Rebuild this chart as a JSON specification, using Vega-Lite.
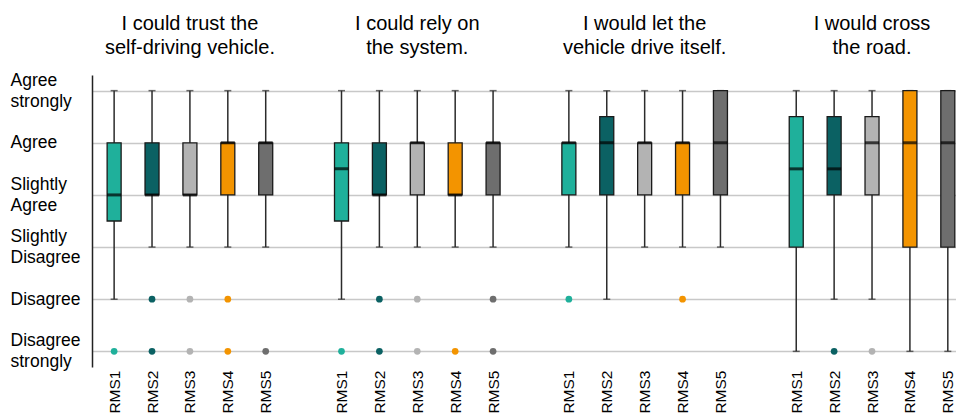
{
  "$schema": "https://vega.github.io/schema/vega-lite/v6.json",
  "autosize": "none",
  "width": 864,
  "height": 292,
  "padding": {"left": 92, "top": 75, "right": 0, "bottom": 46},
  "config": {
    "view": {"stroke": null},
    "font": "Liberation Sans"
  },
  "datasets": {
    "boxes": [
      {"key": "1 RMS1", "rms": "RMS1", "lo": 2, "q1": 3.5, "med": 4, "q3": 5, "hi": 6},
      {"key": "1 RMS2", "rms": "RMS2", "lo": 3, "q1": 4, "med": 4, "q3": 5, "hi": 6},
      {"key": "1 RMS3", "rms": "RMS3", "lo": 3, "q1": 4, "med": 4, "q3": 5, "hi": 6},
      {"key": "1 RMS4", "rms": "RMS4", "lo": 3, "q1": 4, "med": 5, "q3": 5, "hi": 6},
      {"key": "1 RMS5", "rms": "RMS5", "lo": 3, "q1": 4, "med": 5, "q3": 5, "hi": 6},
      {"key": "2 RMS1", "rms": "RMS1", "lo": 2, "q1": 3.5, "med": 4.5, "q3": 5, "hi": 6},
      {"key": "2 RMS2", "rms": "RMS2", "lo": 3, "q1": 4, "med": 4, "q3": 5, "hi": 6},
      {"key": "2 RMS3", "rms": "RMS3", "lo": 3, "q1": 4, "med": 5, "q3": 5, "hi": 6},
      {"key": "2 RMS4", "rms": "RMS4", "lo": 3, "q1": 4, "med": 4, "q3": 5, "hi": 6},
      {"key": "2 RMS5", "rms": "RMS5", "lo": 3, "q1": 4, "med": 5, "q3": 5, "hi": 6},
      {"key": "3 RMS1", "rms": "RMS1", "lo": 3, "q1": 4, "med": 5, "q3": 5, "hi": 6},
      {"key": "3 RMS2", "rms": "RMS2", "lo": 2, "q1": 4, "med": 5, "q3": 5.5, "hi": 6},
      {"key": "3 RMS3", "rms": "RMS3", "lo": 3, "q1": 4, "med": 5, "q3": 5, "hi": 6},
      {"key": "3 RMS4", "rms": "RMS4", "lo": 3, "q1": 4, "med": 5, "q3": 5, "hi": 6},
      {"key": "3 RMS5", "rms": "RMS5", "lo": 3, "q1": 4, "med": 5, "q3": 6, "hi": 6},
      {"key": "4 RMS1", "rms": "RMS1", "lo": 1, "q1": 3, "med": 4.5, "q3": 5.5, "hi": 6},
      {"key": "4 RMS2", "rms": "RMS2", "lo": 2, "q1": 4, "med": 4.5, "q3": 5.5, "hi": 6},
      {"key": "4 RMS3", "rms": "RMS3", "lo": 2, "q1": 4, "med": 5, "q3": 5.5, "hi": 6},
      {"key": "4 RMS4", "rms": "RMS4", "lo": 1, "q1": 3, "med": 5, "q3": 6, "hi": 6},
      {"key": "4 RMS5", "rms": "RMS5", "lo": 1, "q1": 3, "med": 5, "q3": 6, "hi": 6}
    ],
    "outliers": [
      {"key": "1 RMS1", "rms": "RMS1", "v": 1},
      {"key": "1 RMS2", "rms": "RMS2", "v": 2},
      {"key": "1 RMS2", "rms": "RMS2", "v": 1},
      {"key": "1 RMS3", "rms": "RMS3", "v": 2},
      {"key": "1 RMS3", "rms": "RMS3", "v": 1},
      {"key": "1 RMS4", "rms": "RMS4", "v": 2},
      {"key": "1 RMS4", "rms": "RMS4", "v": 1},
      {"key": "1 RMS5", "rms": "RMS5", "v": 1},
      {"key": "2 RMS1", "rms": "RMS1", "v": 1},
      {"key": "2 RMS2", "rms": "RMS2", "v": 2},
      {"key": "2 RMS2", "rms": "RMS2", "v": 1},
      {"key": "2 RMS3", "rms": "RMS3", "v": 2},
      {"key": "2 RMS3", "rms": "RMS3", "v": 1},
      {"key": "2 RMS4", "rms": "RMS4", "v": 1},
      {"key": "2 RMS5", "rms": "RMS5", "v": 2},
      {"key": "2 RMS5", "rms": "RMS5", "v": 1},
      {"key": "3 RMS1", "rms": "RMS1", "v": 2},
      {"key": "3 RMS4", "rms": "RMS4", "v": 2},
      {"key": "4 RMS2", "rms": "RMS2", "v": 1},
      {"key": "4 RMS3", "rms": "RMS3", "v": 1}
    ],
    "titles": [
      {"key": "1 RMS3", "title": "I could trust the\nself-driving vehicle."},
      {"key": "2 RMS3", "title": "I could rely on\nthe system."},
      {"key": "3 RMS3", "title": "I would let the\nvehicle drive itself."},
      {"key": "4 RMS3", "title": "I would cross\nthe road."}
    ]
  },
  "encoding": {
    "x": {
      "field": "key",
      "type": "nominal",
      "sort": null,
      "scale": {
        "type": "point",
        "padding": 0.4,
        "align": 0.73,
        "domain": ["1 RMS1", "1 RMS2", "1 RMS3", "1 RMS4", "1 RMS5", "g1",
                   "2 RMS1", "2 RMS2", "2 RMS3", "2 RMS4", "2 RMS5", "g2",
                   "3 RMS1", "3 RMS2", "3 RMS3", "3 RMS4", "3 RMS5", "g3",
                   "4 RMS1", "4 RMS2", "4 RMS3", "4 RMS4", "4 RMS5"]
      },
      "axis": {
        "title": null,
        "domain": false,
        "ticks": false,
        "grid": false,
        "labelAngle": -90,
        "labelPadding": 3,
        "labelFontSize": 15.5,
        "labelColor": "#000000",
        "labelFont": "Liberation Sans",
        "labelExpr": "substring(datum.value, 0, 1) == 'g' ? '' : substring(datum.value, 2)"
      }
    }
  },
  "layer": [
    {
      "data": {"name": "boxes"},
      "mark": {"type": "rule", "color": "#2b2b2b", "strokeWidth": 1.5},
      "encoding": {
        "y": {
          "field": "lo",
          "type": "quantitative",
          "scale": {"domain": [0.7, 6.3], "nice": false, "zero": false},
          "axis": {
            "title": null,
            "values": [1, 2, 3, 4, 5, 6],
            "grid": true,
            "gridColor": "#c8c8c8",
            "gridWidth": 1.6,
            "ticks": false,
            "domain": true,
            "domainColor": "#222222",
            "domainWidth": 1.5,
            "labelAlign": "left",
            "labelPadding": 82,
            "labelFontSize": 17.5,
            "labelLineHeight": 21,
            "labelOffset": {"condition": {"test": "datum.value == 5 || datum.value == 2", "value": 0}, "value": -10.5},
            "labelColor": "#000000",
            "labelFont": "Liberation Sans",
            "labelExpr": "datum.value == 6 ? ['Agree', 'strongly'] : datum.value == 5 ? 'Agree' : datum.value == 4 ? ['Slightly', 'Agree'] : datum.value == 3 ? ['Slightly', 'Disagree'] : datum.value == 2 ? 'Disagree' : ['Disagree', 'strongly']"
          }
        },
        "y2": {"field": "hi"}
      }
    },
    {
      "data": {"name": "boxes"},
      "mark": {"type": "tick", "orient": "horizontal", "size": 7, "thickness": 1.5, "color": "#2b2b2b"},
      "encoding": {"y": {"field": "lo", "type": "quantitative"}}
    },
    {
      "data": {"name": "boxes"},
      "mark": {"type": "tick", "orient": "horizontal", "size": 7, "thickness": 1.5, "color": "#2b2b2b"},
      "encoding": {"y": {"field": "hi", "type": "quantitative"}}
    },
    {
      "data": {"name": "boxes"},
      "mark": {"type": "bar", "size": 14, "stroke": "#1a1a1a", "strokeWidth": 1.3},
      "encoding": {
        "y": {"field": "q1", "type": "quantitative"},
        "y2": {"field": "q3"},
        "color": {
          "field": "rms",
          "type": "nominal",
          "scale": {"domain": ["RMS1", "RMS2", "RMS3", "RMS4", "RMS5"], "range": ["#1fb09b", "#0b6163", "#b3b3b3", "#f39400", "#6e6e6e"]},
          "legend": null
        }
      }
    },
    {
      "data": {"name": "boxes"},
      "mark": {"type": "tick", "orient": "horizontal", "size": 14, "thickness": 3, "color": "#000000"},
      "encoding": {"y": {"field": "med", "type": "quantitative"}}
    },
    {
      "data": {"name": "outliers"},
      "mark": {"type": "circle", "size": 45, "opacity": 1},
      "encoding": {
        "y": {"field": "v", "type": "quantitative"},
        "color": {"field": "rms", "type": "nominal", "legend": null}
      }
    },
    {
      "data": {"name": "titles"},
      "mark": {"type": "text", "align": "center", "baseline": "alphabetic", "fontSize": 20, "lineHeight": 24, "lineBreak": "\n", "color": "#000000", "font": "Liberation Sans"},
      "encoding": {
        "y": {"datum": 7.16, "type": "quantitative"},
        "text": {"field": "title"}
      }
    }
  ]
}
